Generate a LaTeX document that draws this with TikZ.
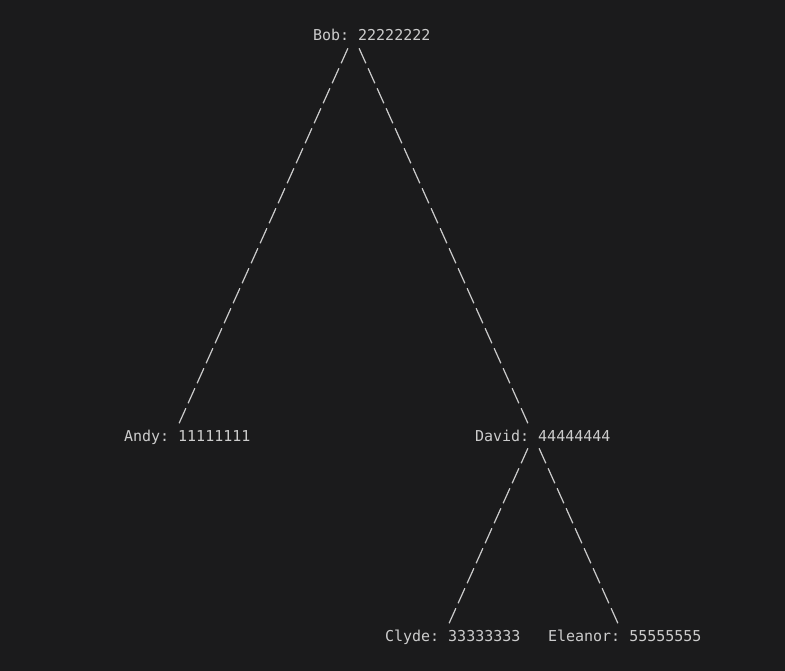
\documentclass[tikz,border=0pt]{standalone}
\usepackage{fontspec}
\setmonofont{DejaVu Sans Mono}
\definecolor{bg}{HTML}{1B1B1C}
\definecolor{fg}{HTML}{CCCCCC}
\begin{document}
\begin{tikzpicture}[x=1pt,y=-1pt,
  label/.style={anchor=base west,inner sep=0pt,outer sep=0pt,text=fg,
    font=\ttfamily\fontsize{15}{18}\selectfont},
  branch/.style={draw=fg,line width=1.2pt,dash pattern=on 16.45pt off 5.48pt}]
\fill[bg] (0,0) rectangle (785,671);
\useasboundingbox (0,0) rectangle (785,671);
% labels
\node[label] (bob) at (313,41) {Bob: 22222222};
\node[label] (andy) at (124,441) {Andy: 11111111};
\node[label] (david) at (475,441) {David: 44444444};
\node[label] (clyde) at (385,641) {Clyde: 33333333};
\node[label] (eleanor) at (548,641) {Eleanor: 55555555};
% connector ends
\coordinate (bobL) at (347.9,48.3);
\coordinate (andyT) at (179.1,423.3);
\coordinate (bobR) at (359.1,48.3);
\coordinate (davidT) at (527.9,423.3);
\coordinate (davidL) at (527.9,448.3);
\coordinate (clydeT) at (449.1,623.3);
\coordinate (davidR) at (539.1,448.3);
\coordinate (eleanorT) at (617.9,623.3);
% connectors
\draw[branch] (bobL) -- (andyT);
\draw[branch] (bobR) -- (davidT);
\draw[branch] (davidL) -- (clydeT);
\draw[branch] (davidR) -- (eleanorT);
\end{tikzpicture}
\end{document}
